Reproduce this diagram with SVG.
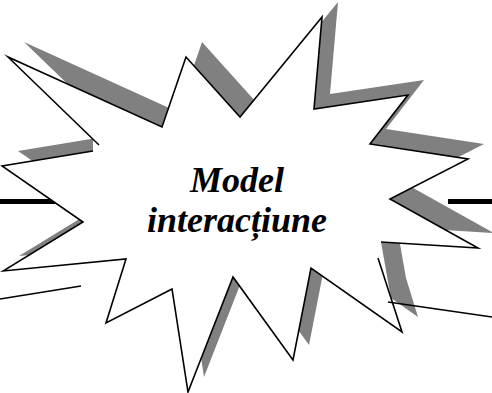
<svg xmlns="http://www.w3.org/2000/svg" width="492" height="393" viewBox="0 0 492 393">
<style>
.shadow{fill:#808080;stroke:none}
.fill{fill:#ffffff;stroke:none}
.outline{fill:none;stroke:#000;stroke-width:1.6;stroke-linejoin:miter;stroke-miterlimit:20}
.thick{stroke:#000;stroke-width:5}
.thin{stroke:#000;stroke-width:1.6}
.label{font-family:"Liberation Serif","Times New Roman",serif;font-size:36px;font-weight:bold;font-style:italic;fill:#000;text-anchor:middle}
</style>
<defs>
<polygon id="starShape" points="8,57 162,127 186,57 240,117 322,17 314,109 408,95 370,144 468,159 390,199 478,248 381,242 390,293 402,332 311,268 293,360 233,277 188,392 172,289 106,323 126,259 3,271 83,222 2,166 93,151 93,139"/>
</defs>
<g id="connectors">
<line class="thick" x1="0" y1="201.5" x2="55" y2="201.5"/>
<line class="thick" x1="448" y1="201.5" x2="492" y2="201.5"/>
</g>
<g id="star">
<use href="#starShape" class="shadow" transform="translate(16,-15)"/>
<use href="#starShape" class="fill"/>
<path class="outline" d="M99,145 L8,57 L162,127 L186,57 L240,117 L322,17 L314,109 L408,95 L370,144 L468,159 L390,199 L478,248 L381,242"/>
<path class="outline" d="M378,258 L402,332 L311,268 L293,360 L233,277 L188,392 L172,289 L106,323 L126,259 L3,271 L83,222 L2,166 L93,151"/>
<text class="label" x="237" y="192">Model</text>
<text class="label" x="237" y="232">interacțiune</text>
</g>
<g id="lines">
<line class="thin" x1="0" y1="299" x2="81" y2="286"/>
<line class="thin" x1="388" y1="302" x2="492" y2="317"/>
</g>
</svg>
